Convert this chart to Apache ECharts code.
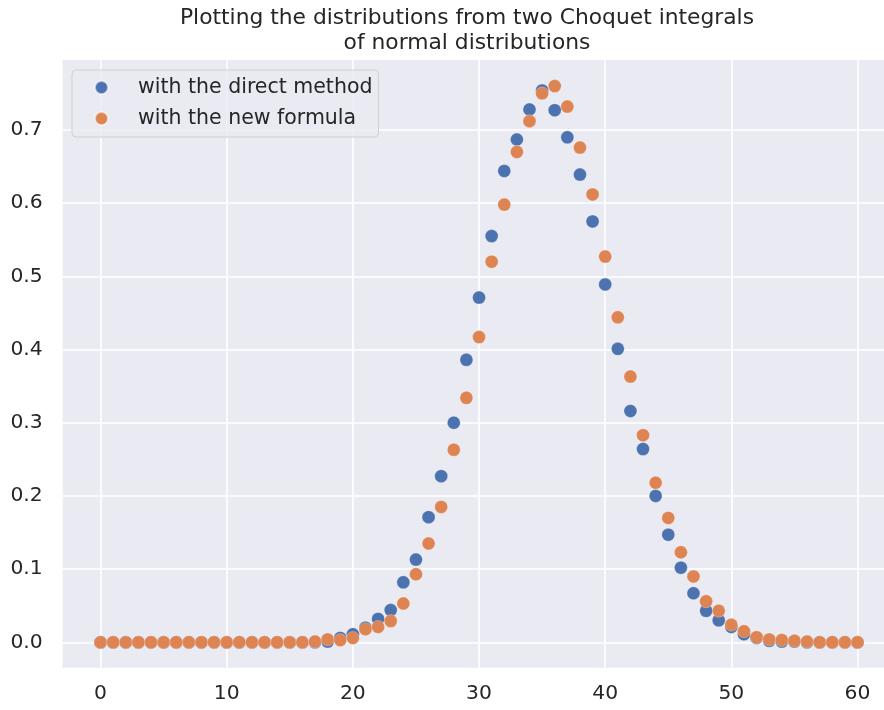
<!DOCTYPE html>
<html>
<head>
<meta charset="utf-8">
<script src="https://cdn.jsdelivr.net/npm/echarts@6/dist/echarts.min.js"></script>
<style>html,body{margin:0;padding:0;background:#fff;overflow:hidden}#c{width:884px;height:710px}</style>
</head>
<body>
<div id="c"></div>
<script>
const xValues = [0,1,2,3,4,5,6,7,8,9,10,11,12,13,14,15,16,17,18,19,20,21,22,23,24,25,26,27,28,29,30,31,32,33,34,35,36,37,38,39,40,41,42,43,44,45,46,47,48,49,50,51,52,53,54,55,56,57,58,59,60];
const directMethod = [0,0,0,0,0,0,0,0,0,0,0,0,0,0,0,0,0,0,0.001,0.006,0.011,0.02,0.032,0.044,0.082,0.113,0.171,0.227,0.300,0.386,0.471,0.555,0.644,0.687,0.728,0.754,0.727,0.690,0.639,0.575,0.489,0.401,0.316,0.264,0.200,0.147,0.102,0.067,0.043,0.030,0.021,0.011,0.006,0.002,0.001,0.001,0,0,0,0,0];
const newFormula = [0,0,0,0,0,0,0,0,0,0,0,0,0,0,0,0,0,0.001,0.004,0.003,0.006,0.018,0.021,0.029,0.053,0.093,0.135,0.185,0.263,0.334,0.417,0.520,0.598,0.670,0.712,0.750,0.760,0.732,0.676,0.612,0.527,0.444,0.363,0.283,0.218,0.170,0.123,0.090,0.056,0.043,0.024,0.015,0.007,0.004,0.003,0.002,0.001,0,0,0,0];
const xTicks = [0,10,20,30,40,50,60];
const yTicks = [0,0.1,0.2,0.3,0.4,0.5,0.6,0.7];
const seriesNames = ['with the direct method','with the new formula'];
const titleText = 'Plotting the distributions from two Choquet integrals\nof normal distributions';

const chart = echarts.init(document.getElementById('c'), null, {renderer:'canvas'});
const font = 'DejaVu Sans';
const toPairs = arr => arr.map((v,i)=>[xValues[i], v]);
chart.setOption({
  animation:false,
  backgroundColor:'#ffffff',
  title:{
    text:titleText, left:462, textAlign:'center', top:1,
    textStyle:{fontFamily:font, fontSize:21.8, fontWeight:'normal', color:'#262626', lineHeight:25}
  },
  legend:{
    data:seriesNames, orient:'vertical', left:72, top:70,
    padding:[7,6,8,22], itemWidth:13, itemHeight:13, itemGap:10,
    backgroundColor:'rgba(234,234,242,0.8)', borderColor:'#d0d0d0', borderWidth:1, borderRadius:4,
    textStyle:{fontFamily:font, fontSize:20.5, color:'#262626', lineHeight:17, padding:[0,0,0,25]}
  },
  grid:{left:62.7, right:0, top:60, bottom:42.3, show:true, backgroundColor:'#eaeaf2', borderWidth:0},
  xAxis:{
    type:'value', min:-3, max:62.1,
    axisLine:{show:false}, axisTick:{show:false, customValues:xTicks},
    axisLabel:{customValues:xTicks, fontFamily:font, fontSize:20.3, color:'#262626', margin:16},
    splitLine:{show:true, lineStyle:{color:'#ffffff', width:1.6}}
  },
  yAxis:{
    type:'value', min:-0.0347, max:0.7956,
    axisLine:{show:false}, axisTick:{show:false, customValues:yTicks},
    axisLabel:{customValues:yTicks, fontFamily:font, fontSize:20.3, color:'#262626', margin:20,
      formatter:v=>v.toFixed(1)},
    splitLine:{show:true, lineStyle:{color:'#ffffff', width:1.6}}
  },
  series:[
    {name:seriesNames[0], type:'scatter', data:toPairs(directMethod), symbolSize:13,
     itemStyle:{color:'#4c72b0', opacity:1, borderColor:'rgba(255,255,255,0.5)', borderWidth:0.5}},
    {name:seriesNames[1], type:'scatter', data:toPairs(newFormula), symbolSize:13,
     itemStyle:{color:'#dd8452', opacity:1, borderColor:'rgba(255,255,255,0.5)', borderWidth:0.5}}
  ]
});
</script>
</body>
</html>
